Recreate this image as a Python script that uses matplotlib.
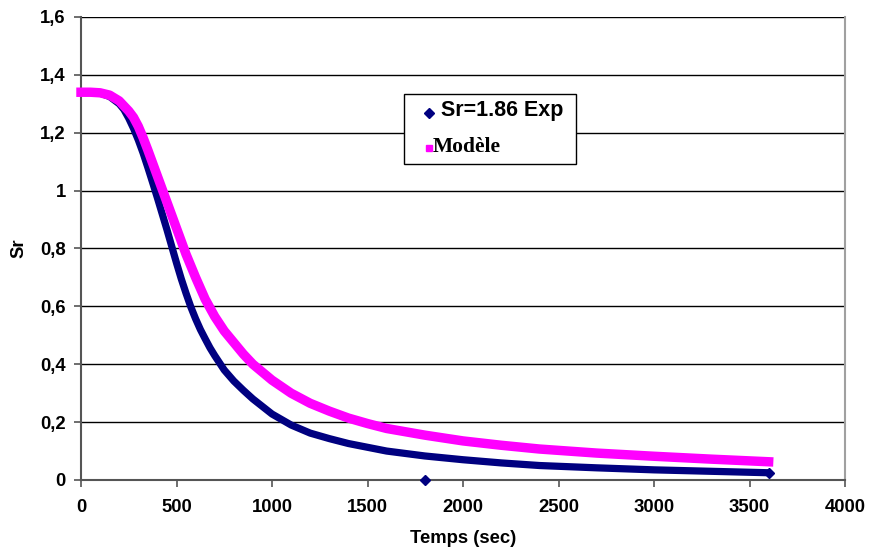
import matplotlib.pyplot as plt
from matplotlib.patches import Rectangle
from matplotlib.ticker import FuncFormatter

t_exp = [0, 50, 100, 150, 200, 225, 250, 275, 300, 325, 350, 375, 400, 450,
         500, 525, 550, 575, 600, 625, 650, 675, 700, 750, 800, 850, 900,
         1000, 1100, 1200, 1300, 1400, 1500, 1600, 1800, 2000, 2200, 2400,
         2700, 3000, 3300, 3600]
sr_exp = [1.34, 1.34, 1.337, 1.325, 1.30, 1.28, 1.25, 1.215, 1.175, 1.13,
          1.08, 1.028, 0.975, 0.865, 0.75, 0.695, 0.645, 0.598, 0.557, 0.52,
          0.488, 0.457, 0.43, 0.38, 0.342, 0.31, 0.28, 0.228, 0.19, 0.162,
          0.143, 0.126, 0.113, 0.100, 0.083, 0.07, 0.059, 0.05, 0.042, 0.035,
          0.03, 0.025]

# stray experimental point sitting on the axis
t_out = [1800]
sr_out = [0.0]

# Model curve
t_mod = [0, 50, 100, 150, 200, 250, 275, 300, 325, 350, 375, 400, 450, 500,
         550, 600, 650, 700, 750, 800, 850, 900, 1000, 1100, 1200, 1300, 1400,
         1500, 1600, 1800, 2000, 2200, 2400, 2700, 3000, 3300, 3600]
sr_mod = [1.34, 1.34, 1.338, 1.33, 1.31, 1.275, 1.253, 1.222, 1.183, 1.14,
          1.095, 1.05, 0.96, 0.87, 0.78, 0.70, 0.625, 0.565, 0.515, 0.475,
          0.435, 0.40, 0.345, 0.30, 0.265, 0.238, 0.214, 0.195, 0.178, 0.155,
          0.135, 0.12, 0.107, 0.093, 0.082, 0.072, 0.063]

x_ticks = [0, 500, 1000, 1500, 2000, 2500, 3000, 3500, 4000]
y_ticks = [0, 0.2, 0.4, 0.6, 0.8, 1.0, 1.2, 1.4, 1.6]

NAVY = "#000080"
MAGENTA = "#ff00ff"
FS = 13.3

plt.rcParams["font.family"] = ["Liberation Sans", "DejaVu Sans"]

fig = plt.figure(figsize=(8.7, 5.5), dpi=100)
ax = fig.add_axes([0.0931, 0.1273, 0.8782, 0.8418])

ax.plot(t_exp, sr_exp, color=NAVY, lw=5.2, solid_joinstyle="round",
        solid_capstyle="butt", marker="D", ms=5.5, markevery=[len(t_exp) - 1],
        zorder=2)
ax.plot(t_mod, sr_mod, color=MAGENTA, lw=6.8, solid_joinstyle="round",
        solid_capstyle="projecting", clip_on=False, zorder=3)
ax.plot(t_out, sr_out, "D", color=NAVY, ms=5, clip_on=False, zorder=4)

ax.set_xlim(0, 4000)
ax.set_ylim(0, 1.6)
ax.set_xticks(x_ticks)
ax.set_yticks(y_ticks)


def comma_fmt(v, pos):
    s = ("%.1f" % v).rstrip("0").rstrip(".")
    return s.replace(".", ",")


ax.yaxis.set_major_formatter(FuncFormatter(comma_fmt))
ax.xaxis.set_major_formatter(FuncFormatter(lambda v, p: "%d" % v))

ax.yaxis.grid(True, color="black", lw=1.0)
ax.set_axisbelow(True)

ax.spines["top"].set_visible(False)
ax.spines["left"].set_color("#555555")
ax.spines["bottom"].set_color("#555555")
ax.spines["right"].set_color("#a0a0a0")
for side in ("left", "bottom", "right"):
    ax.spines[side].set_linewidth(1.5)

ax.tick_params(axis="both", direction="out", length=5, width=1.2,
               color="#555555", labelsize=FS)
ax.tick_params(axis="x", pad=9)
ax.tick_params(axis="y", pad=6)
for lab in ax.get_xticklabels() + ax.get_yticklabels():
    lab.set_fontweight("bold")

ax.set_xlabel("Temps (sec)", fontsize=FS, fontweight="bold", labelpad=10)
ax.set_ylabel("Sr", fontsize=FS, fontweight="bold", labelpad=9)

# legend box, Excel style
tr = ax.transAxes
ax.add_patch(Rectangle((0.4228, 0.6825), 0.2251, 0.1512, transform=tr,
                       facecolor="white", edgecolor="black", lw=1.0,
                       zorder=5, clip_on=False))
ax.plot([0.4555], [0.7933], "D", color=NAVY, ms=5, transform=tr, zorder=6,
        clip_on=False)
ax.text(0.4712, 0.7855, "Sr=1.86 Exp", transform=tr, fontsize=15.5,
        fontweight="bold", va="baseline", ha="left", zorder=6)
ax.plot([0.4555], [0.7171], "s", color=MAGENTA, ms=4.5, transform=tr,
        zorder=6, clip_on=False)
ax.text(0.4607, 0.7084, "Modèle", transform=tr, fontsize=15.5,
        fontweight="bold", va="baseline", ha="left", zorder=6,
        family=["Liberation Serif", "DejaVu Serif"])

fig.savefig("out.png", dpi=100)
plt.close(fig)
